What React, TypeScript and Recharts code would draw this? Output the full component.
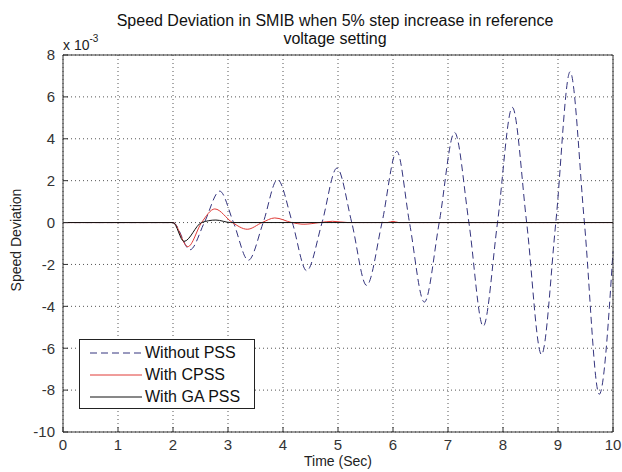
import React from "react";
import { LineChart, Line, XAxis, YAxis, CartesianGrid, Legend } from "recharts";

// time (s) and speed deviation (x 1e-3)
const noPssTime = [0, 2.0, 2.31, 2.57, 2.85, 3.1, 3.37, 3.64, 3.9, 4.17, 4.43, 4.71, 4.98, 5.25, 5.52, 5.8, 6.07, 6.3, 6.57, 6.84, 7.12, 7.38, 7.64, 7.9, 8.17, 8.43, 8.7, 8.96, 9.22, 9.48, 9.75, 10];
const noPssSpeed = [0, 0, -1.3, 0, 1.5, 0, -1.8, 0, 2.05, 0, -2.3, 0, 2.6, 0, -3.0, 0, 3.4, 0, -3.8, 0, 4.3, 0, -4.95, 0, 5.5, 0, -6.3, 0, 7.2, 0, -8.2, -1.4];

const cpssTime = [0, 2.0, 2.27, 2.52, 2.76, 3.08, 3.35, 3.62, 3.85, 4.16, 4.38, 4.67, 4.9, 5.18, 5.9, 6.0, 6.1, 10];
const cpssSpeed = [0, 0, -1.15, 0, 0.65, 0, -0.32, 0, 0.22, 0, -0.08, 0, 0.06, 0, 0, 0.06, 0, 0];

const gaPssTime = [0, 2.0, 2.2, 2.52, 2.78, 3.05, 10];
const gaPssSpeed = [0, 0, -0.9, 0, 0.12, 0, 0];

const xTicks = [0, 1, 2, 3, 4, 5, 6, 7, 8, 9, 10];
const yTicks = [-10, -8, -6, -4, -2, 0, 2, 4, 6, 8];

const legendNames = ["Without PSS", "With CPSS", "With GA PSS"];

const toPoints = (t: number[], v: number[]) => t.map((x, i) => ({ t: x, v: v[i] }));

const SERIES = [
  { name: legendNames[0], data: toPoints(noPssTime, noPssSpeed), color: "#34347e", dash: "7 4" },
  { name: legendNames[1], data: toPoints(cpssTime, cpssSpeed), color: "#e03a36", dash: undefined },
  { name: legendNames[2], data: toPoints(gaPssTime, gaPssSpeed), color: "#111111", dash: undefined },
];

const FONT = '"Liberation Sans", Arial, sans-serif';
const AXIS = "#333";

function LegendBox() {
  return (
    <div style={{ position: "relative", width: 176, height: 70, border: "1px solid #222", background: "#fff", boxSizing: "border-box", fontFamily: FONT, fontSize: 16, color: "#111" }}>
      {SERIES.map((s, i) => (
        <div key={s.name} style={{ position: "absolute", left: 10, top: 3 + i * 22, height: 20, display: "flex", alignItems: "center", whiteSpace: "nowrap" }}>
          <svg width={52} height={4}>
            <line x1={0} y1={2} x2={52} y2={2} stroke={s.color} strokeWidth={1} strokeDasharray={s.dash} />
          </svg>
          <span style={{ marginLeft: 3 }}>{s.name}</span>
        </div>
      ))}
    </div>
  );
}

export default function App() {
  return (
    <div style={{ position: "absolute", left: 0, top: 0, width: 622, height: 472, background: "#fff", fontFamily: FONT }}>
      <div style={{ position: "absolute", left: 60, top: 12, width: 550, textAlign: "center", fontSize: 16, lineHeight: "18px", color: "#111" }}>
        Speed Deviation in SMIB when 5% step increase in reference
        <br />
        voltage setting
      </div>
      <div style={{ position: "absolute", left: 63, top: 35, fontSize: 14, color: "#222", whiteSpace: "nowrap" }}>
        x 10<sup style={{ fontSize: 10, position: "relative", top: -2 }}>-3</sup>
      </div>
      <div style={{ position: "absolute", left: 16, top: 240, transform: "translate(-50%, -50%) rotate(-90deg)", fontSize: 14, color: "#222", whiteSpace: "nowrap" }}>
        Speed Deviation
      </div>
      <div style={{ position: "absolute", left: 338, top: 461, transform: "translate(-50%, -50%)", fontSize: 14, color: "#222", whiteSpace: "nowrap" }}>
        Time (Sec)
      </div>
      <LineChart width={622} height={472} margin={{ top: 50, right: 4, bottom: 10, left: 23 }} style={{ position: "absolute", left: 0, top: 0 }}>
        <CartesianGrid stroke="#555" strokeDasharray="1 3" />
        <XAxis dataKey="t" type="number" domain={[0, 10]} ticks={xTicks} height={30}
          stroke={AXIS} tickSize={-5} tickMargin={12} tick={{ fontSize: 15, fill: "#333", fontFamily: FONT }} />
        <XAxis xAxisId="top" orientation="top" dataKey="t" type="number" domain={[0, 10]} ticks={xTicks} height={5}
          stroke={AXIS} tickSize={-5} tickFormatter={() => ""} />
        <YAxis type="number" domain={[-10, 8]} ticks={yTicks} width={40}
          stroke={AXIS} tickSize={-5} tickMargin={13} tick={{ fontSize: 15, fill: "#333", fontFamily: FONT }} />
        <YAxis yAxisId="right" orientation="right" type="number" domain={[-10, 8]} ticks={yTicks} width={5}
          stroke={AXIS} tickSize={-5} tickFormatter={() => ""} />
        {SERIES.map((s) => (
          <Line key={s.name} data={s.data} dataKey="v" name={s.name} type="monotone" stroke={s.color}
            strokeWidth={1} strokeDasharray={s.dash} dot={false} activeDot={false} isAnimationActive={false} />
        ))}
        <Legend layout="vertical" align="center" verticalAlign="middle"
          wrapperStyle={{ left: 79, top: 339, width: 176, height: 70 }} content={() => <LegendBox />} />
      </LineChart>
    </div>
  );
}
